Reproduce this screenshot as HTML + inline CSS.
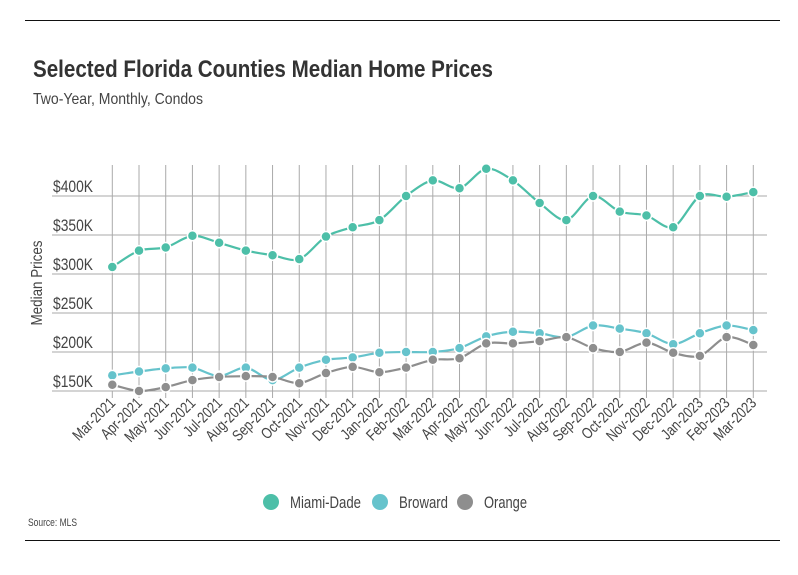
<!DOCTYPE html>
<html><head><meta charset="utf-8">
<style>
body{margin:0;background:#fff;font-family:"Liberation Sans",sans-serif;}
#wrap{position:relative;width:798px;height:575px;overflow:hidden;}
svg text{font-family:"Liberation Sans",sans-serif;}
</style></head><body>
<div id="wrap">
<svg id="chart" width="798" height="575"></svg>
</div>
<script>
const categories=["Mar-2021","Apr-2021","May-2021","Jun-2021","Jul-2021","Aug-2021","Sep-2021","Oct-2021","Nov-2021","Dec-2021","Jan-2022","Feb-2022","Mar-2022","Apr-2022","May-2022","Jun-2022","Jul-2022","Aug-2022","Sep-2022","Oct-2022","Nov-2022","Dec-2022","Jan-2023","Feb-2023","Mar-2023"];
const miamiDade=[309,330,334,349,340,330,324,319,348,360,369,400,420,410,435,420,391,369,400,380,375,360,400,399,405];
const broward=[170,175,179,180,169,180,164,180,190,193,199,200,200,205,220,226,224,219,234,230,224,210,224,234,228];
const orange=[158,150,155,164,168,169,168,160,173,181,174,180,190,192,211,211,214,219,205,200,212,199,195,219,209];
const yTicks=[150,200,250,300,350,400];
const yTickLabels=["$150K","$200K","$250K","$300K","$350K","$400K"];
const seriesNames=["Miami-Dade","Broward","Orange"];
const seriesColors=["#4dbfa8","#66c3cc","#8e8e8e"];

const NS="http://www.w3.org/2000/svg";
const svg=document.getElementById('chart');
function mk(t,a,p){const e=document.createElementNS(NS,t);for(const k in a)e.setAttribute(k,a[k]);(p||svg).appendChild(e);return e;}
function narrow(t,len){const w=len||t.getComputedTextLength()*0.8;t.setAttribute('textLength',w);t.setAttribute('lengthAdjust','spacingAndGlyphs');}
const x0=112.3,x1=753.3,plotL=52,plotR=767,plotTop=165;
function xs(i){return x0+(x1-x0)*i/(categories.length-1);}
function ys(v){return 391-(v-150)*0.78;}

let e;
e=mk('line',{x1:25,x2:780,y1:20.5,y2:20.5,stroke:'#111','stroke-width':1});


e=mk('line',{x1:25,x2:780,y1:540.5,y2:540.5,stroke:'#111','stroke-width':1});


e=mk('text',{x:33,y:77,'font-size':24,'font-weight':'bold',fill:'#333'});e.textContent='Selected Florida Counties Median Home Prices';


narrow(e,460);
e=mk('text',{x:33,y:104,'font-size':16,fill:'#444'});e.textContent='Two-Year, Monthly, Condos';


narrow(e,170);

yTicks.forEach((v,i)=>{
  const g=mk('line',{x1:plotL,x2:plotR,y1:ys(v),y2:ys(v),stroke:'#aaa','stroke-width':1});
  
  
  const t=mk('text',{x:53,y:ys(v)-4,'font-size':16.5,fill:'#444'});t.textContent=yTickLabels[i];
  
  
  narrow(t,40);
});
categories.forEach((c,i)=>{
  const g=mk('line',{x1:xs(i),x2:xs(i),y1:plotTop,y2:398,stroke:'#aaa','stroke-width':1});
  
  
  const t=mk('text',{x:xs(i)+4,y:404,'font-size':15.5,fill:'#444','text-anchor':'end',transform:`rotate(-45 ${xs(i)+4} 404)`});t.textContent=c;
  
  
  narrow(t);
});
e=mk('text',{x:42,y:283,'font-size':16,fill:'#444','text-anchor':'middle',transform:'rotate(-90 42 283)'});e.textContent='Median Prices';


narrow(e,85);

function curve(pts){
  let d=`M${pts[0][0]},${pts[0][1]}`;
  for(let i=0;i<pts.length-1;i++){
    const p0=pts[Math.max(0,i-1)],p1=pts[i],p2=pts[i+1],p3=pts[Math.min(pts.length-1,i+2)];
    const t=0.15;
    d+=` C${p1[0]+(p2[0]-p0[0])*t},${p1[1]+(p2[1]-p0[1])*t} ${p2[0]-(p3[0]-p1[0])*t},${p2[1]-(p3[1]-p1[1])*t} ${p2[0]},${p2[1]}`;
  }
  return d;
}
[miamiDade,broward,orange].forEach((s,si)=>{
  const pts=s.map((v,i)=>[xs(i),ys(v)]);
  const p=mk('path',{d:curve(pts),fill:'none',stroke:seriesColors[si],'stroke-width':2.2});
  
  
  pts.forEach(q=>{
    const c=mk('circle',{cx:q[0],cy:q[1],r:5,fill:seriesColors[si],stroke:'#fff','stroke-width':1.5});
    
    
  });
});
const lx=[271,380,465];
const lw=[71,49,43];
seriesNames.forEach((n,i)=>{
  const c=mk('circle',{cx:lx[i],cy:502,r:8,fill:seriesColors[i]});
  
  
  const t=mk('text',{x:lx[i]+19,y:508,'font-size':16.5,fill:'#444'});t.textContent=n;
  
  
  narrow(t,lw[i]);
});
e=mk('text',{x:28,y:526,'font-size':11,fill:'#444'});e.textContent='Source:  MLS';


narrow(e,49);
</script>
</body></html>
